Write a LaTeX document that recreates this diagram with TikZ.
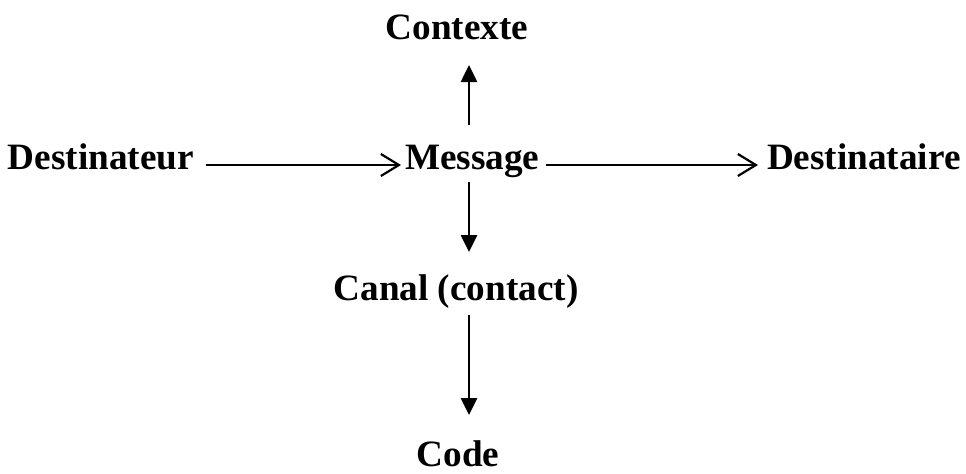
\documentclass[tikz,border=0pt]{standalone}
\usepackage{fontspec}
\setmainfont{Liberation Serif}
\usetikzlibrary{arrows.meta,calc}
\begin{document}
\begin{tikzpicture}[x=0.5pt,y=-0.5pt,
  lbl/.style={font=\fontsize{18.6pt}{22pt}\selectfont\bfseries, inner sep=0pt, outer sep=0pt},
  harrow/.style={line width=1.1pt, -{Straight Barb[length=9pt,width=11pt,line width=1.1pt]}},
  varrow/.style={line width=1.3pt, -{Triangle[length=8.5pt,width=8pt]}}]
\path[use as bounding box] (0,0) rectangle (966,473);
\node[lbl, anchor=base west] (dst) at (8,169) {Destinateur};
\node[lbl, anchor=base west] (msg) at (405,169) {Message};
\node[lbl, anchor=base west] (dta) at (767,169) {Destinataire};
\node[lbl, anchor=base] (ctx) at (457,39) {Contexte};
\node[lbl, anchor=base] (can) at (456,300) {Canal (contact)};
\node[lbl, anchor=base] (cod) at (458,466) {Code};
\draw[harrow] ($(dst.base east)+(12,-4)$) -- ($(msg.base west)+(-4,-4)$);
\draw[harrow] ($(msg.base east)+(7,-4)$) -- ($(dta.base west)+(-9,-4)$);
\draw[varrow] ($(msg.base west)+(64,-44)$) -- ($(ctx.base)+(12,26)$);
\draw[varrow] ($(msg.base west)+(64,13)$) -- ($(can.base)+(13,-48)$);
\draw[varrow] ($(can.base)+(13,15)$) -- ($(cod.base)+(11,-51)$);
\end{tikzpicture}
\end{document}
